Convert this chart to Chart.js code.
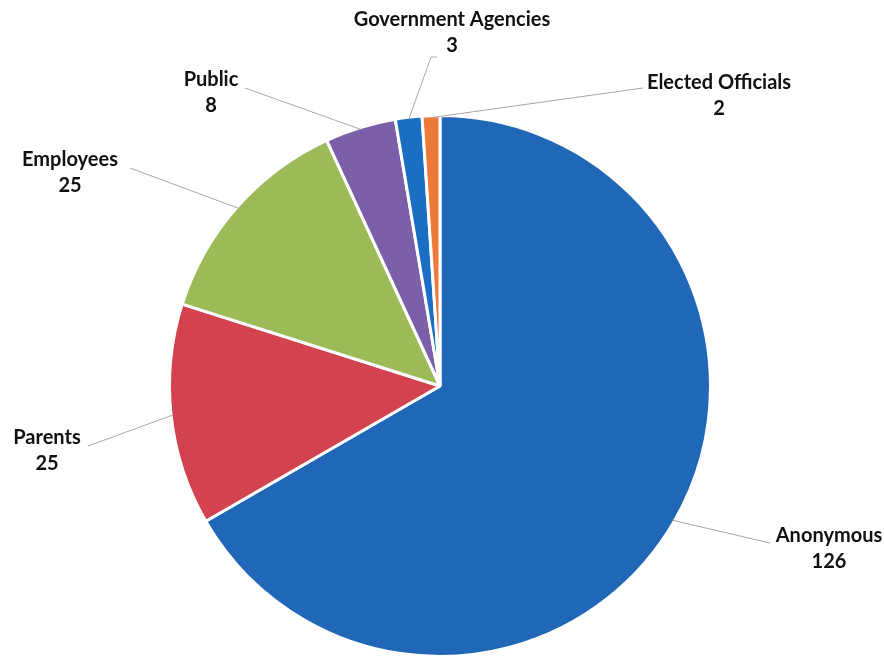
<!DOCTYPE html>
<html>
<head>
<meta charset="utf-8">
<script src="https://cdn.jsdelivr.net/npm/chart.js@4/dist/chart.umd.min.js"></script>
<style>
  html, body { margin: 0; padding: 0; background: #fff; }
  #wrap { width: 884px; height: 661px; }
</style>
</head>
<body>
<div id="wrap"><canvas id="pie"></canvas></div>
<script>
const categories = ["Anonymous", "Parents", "Employees", "Public", "Government Agencies", "Elected Officials"];
const counts = [126, 25, 25, 8, 3, 2];
const sliceColors = ["#2167b8", "#d2434f", "#9cbb58", "#7b5fa8", "#1a6fc4", "#ee7a3a"];

// where each label's text sits (centre of the name line), and the elbow of its leader
const labelSpots = [
  { x: 829, y: 536, elbowX: 770, elbowY: 543 },
  { x: 47, y: 438, elbowX: 88, elbowY: 446 },
  { x: 70, y: 160, elbowX: 130, elbowY: 168 },
  { x: 211, y: 80, elbowX: 245, elbowY: 88 },
  { x: 452, y: 20, elbowX: 437, elbowY: 57, via: [431, 57] },
  { x: 719, y: 83, elbowX: 643, elbowY: 88 }
];

const leaderLabels = {
  id: "leaderLabels",
  afterDatasetsDraw(chart) {
    const ctx = chart.ctx;
    const arcs = chart.getDatasetMeta(0).data;
    ctx.save();
    arcs.forEach((arc, i) => {
      const spot = labelSpots[i];
      const mid = (arc.startAngle + arc.endAngle) / 2;
      const r = arc.outerRadius - 2;
      const sx = arc.x + Math.cos(mid) * r;
      const sy = arc.y + Math.sin(mid) * r;
      ctx.strokeStyle = "#a6a6a6";
      ctx.lineWidth = 1;
      ctx.beginPath();
      ctx.moveTo(sx, sy);
      if (spot.via) {
        ctx.lineTo(spot.via[0], spot.via[1]);
      }
      ctx.lineTo(spot.elbowX, spot.elbowY);
      ctx.stroke();

      ctx.fillStyle = "#111111";
      ctx.font = "bold 20px Lato, 'Open Sans', sans-serif";
      ctx.textAlign = "center";
      ctx.textBaseline = "middle";
      ctx.fillText(categories[i], spot.x, spot.y);
      ctx.fillText(String(counts[i]), spot.x, spot.y + 26);
    });
    ctx.restore();
  }
};

new Chart(document.getElementById("pie"), {
  type: "pie",
  data: {
    labels: categories,
    datasets: [{
      data: counts,
      backgroundColor: sliceColors,
      borderColor: "#ffffff",
      borderWidth: 3
    }]
  },
  options: {
    responsive: true,
    maintainAspectRatio: false,
    animation: false,
    layout: { padding: { top: 113, bottom: 2, left: 168, right: 172 } },
    plugins: {
      legend: { display: false },
      tooltip: { enabled: false }
    }
  },
  plugins: [leaderLabels]
});
</script>
</body>
</html>
